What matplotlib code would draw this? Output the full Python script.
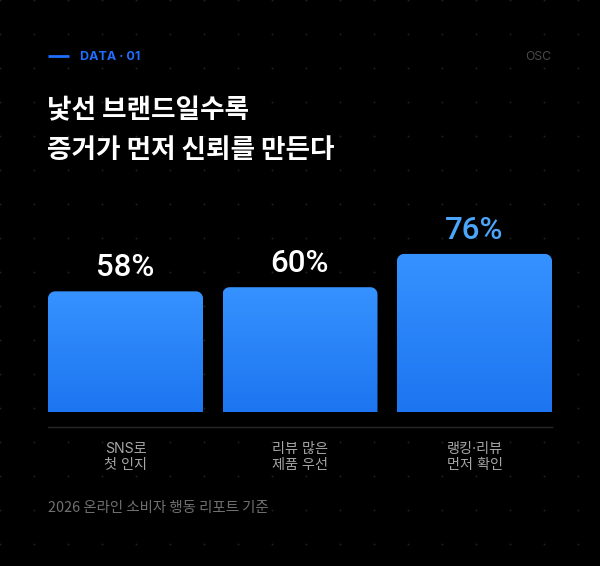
import numpy as np
import matplotlib
matplotlib.use("Agg")
import matplotlib.pyplot as plt
from matplotlib.path import Path
from matplotlib.patches import PathPatch
from matplotlib.colors import LinearSegmentedColormap

# ---- data ----
categories = ["SNS로\n첫 인지", "리뷰 많은\n제품 우선", "랭킹·리뷰\n먼저 확인"]
values = [58, 60, 76]
value_labels = ["58%", "60%", "76%"]
title_lines = ["낯선 브랜드일수록", "증거가 먼저 신뢰를 만든다"]
kicker = "DATA · 01"
brand = "OSC"
footnote = "2026 온라인 소비자 행동 리포트 기준"

W, H = 600, 566
KR = ["Noto Sans CJK KR", "DejaVu Sans"]
MIX = ["Inter", "Noto Sans CJK KR", "DejaVu Sans"]
NUM = ["Roboto", "Inter", "DejaVu Sans"]

fig = plt.figure(figsize=(W / 100, H / 100), dpi=100, facecolor="black")

# overlay axes in pixel coordinates
ov = fig.add_axes([0, 0, 1, 1], facecolor="black")
ov.set_xlim(0, W)
ov.set_ylim(H, 0)
ov.axis("off")

# dot grid background
gx, gy = np.meshgrid(np.arange(0, W + 1, 34), np.arange(0, H + 1, 34))
ov.scatter(gx.ravel(), gy.ravel(), s=1.8, color="#222222", linewidths=0, zorder=0)

# header
ov.plot([48, 69], [56, 56], color="#1f6fff", lw=2, solid_capstyle="butt")
ov.text(80.5, 56.5, kicker, color="#1f6fff", fontsize=9, fontweight="bold",
        family=["Inter", "DejaVu Sans"], va="center", ha="left")
ov.text(551, 56.5, brand, color="#4a4a4a", fontsize=8.8,
        family=["Inter", "DejaVu Sans"], va="center", ha="right")

# title
ov.text(47, 111, title_lines[0], color="white", fontsize=19.2, fontweight="bold",
        family=KR, va="center", ha="left")
ov.text(47, 150, title_lines[1], color="white", fontsize=19.2, fontweight="bold",
        family=KR, va="center", ha="left")

# baseline line
ov.plot([48, 552], [426.5, 426.5], color="#262626", lw=1)

# footnote
ov.text(48, 508, footnote, color="#707070", fontsize=10.4, family=KR,
        va="center", ha="left")

# bar axes: x from 48 to 552 px, y 0 at 412 px, 100 at 204 px
ax_left, ax_right = 48, 552
ax_bot, ax_top = 412, 204
ax = fig.add_axes([ax_left / W, 1 - ax_bot / H, (ax_right - ax_left) / W,
                   (ax_bot - ax_top) / H])
ax.patch.set_alpha(0)
ax.axis("off")
n = len(values)
bw = 155 / 174.5
ax.set_xlim(-bw / 2, n - 1 + bw / 2)
ax.set_ylim(0, 100)

px_per_x = (ax_right - ax_left) / (n - 1 + bw)
px_per_y = (ax_bot - ax_top) / 100
r = 7
rx, ry = r / px_per_x, r / px_per_y
k = 0.5523

cmap = LinearSegmentedColormap.from_list("g", ["#1d75f0", "#3692ff"])
grad = np.linspace(0, 1, 256).reshape(-1, 1)

for i, v in enumerate(values):
    x0, x1 = i - bw / 2, i + bw / 2
    verts = [
        (x0, 0), (x0, v - ry),
        (x0, v - ry * (1 - k)), (x0 + rx * (1 - k), v), (x0 + rx, v),
        (x1 - rx, v),
        (x1 - rx * (1 - k), v), (x1, v - ry * (1 - k)), (x1, v - ry),
        (x1, 0), (x0, 0),
    ]
    codes = [Path.MOVETO, Path.LINETO,
             Path.CURVE4, Path.CURVE4, Path.CURVE4,
             Path.LINETO,
             Path.CURVE4, Path.CURVE4, Path.CURVE4,
             Path.LINETO, Path.CLOSEPOLY]
    patch = PathPatch(Path(verts, codes), facecolor="none", edgecolor="none")
    ax.add_patch(patch)
    im = ax.imshow(grad, cmap=cmap, extent=(x0, x1, 0, v), origin="lower",
                   aspect="auto", interpolation="bicubic", zorder=2)
    im.set_clip_path(patch)
    color = "#4aa5fb" if v == max(values) else "white"
    ax.annotate(value_labels[i], (i, v), xytext=(0, 11), textcoords="offset points",
                ha="center", va="baseline", color=color, fontsize=22.5,
                fontweight="medium", family=NUM)
    lines = categories[i].split("\n")
    for j, line in enumerate(lines):
        ypx = 449 + 16.5 * j
        ax.text(i, (ax_bot - ypx) / (ax_bot - ax_top), line,
                transform=ax.get_xaxis_transform(), ha="center", va="center",
                color="#a6a6a6", fontsize=10.2, family=MIX)

ax.set_xlim(-bw / 2, n - 1 + bw / 2)
ax.set_ylim(0, 100)

fig.savefig("out.png", dpi=100, facecolor="black")
